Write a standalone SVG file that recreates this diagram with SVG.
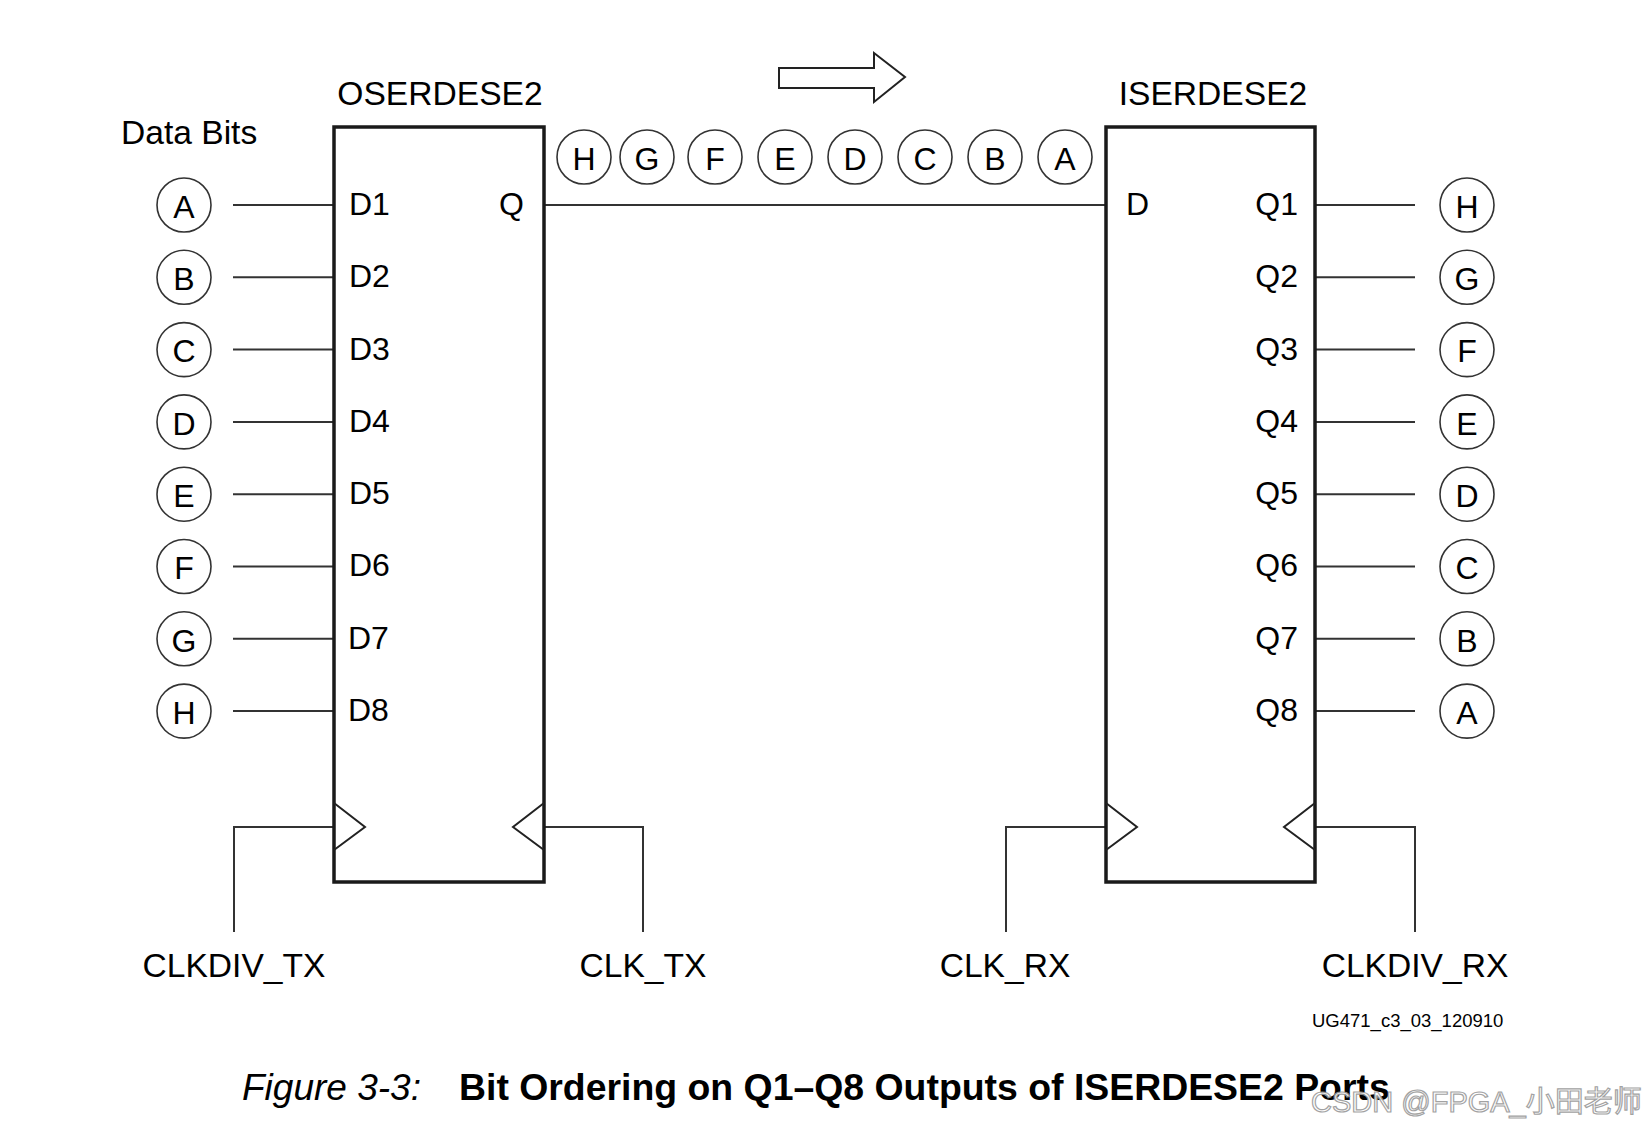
<svg xmlns="http://www.w3.org/2000/svg" width="1647" height="1130" viewBox="0 0 1647 1130">
<style>
text{font-family:"Liberation Sans",Arial,sans-serif;fill:#000}
.lbl{font-size:32px}
.cl{font-size:32px;text-anchor:middle}
.big{font-size:33.6px;text-anchor:middle}
.box{fill:none;stroke:#1a1a1a;stroke-width:3.5}
.ln{fill:none;stroke:#333;stroke-width:2}
.circ{fill:#fff;stroke:#333;stroke-width:1.6}
.tri{fill:none;stroke:#222;stroke-width:2}
</style>
<rect width="1647" height="1130" fill="#fff"/>
<g id="title-data-bits"><text x="121" y="144" font-size="33.6">Data Bits</text></g>
<g id="direction-arrow"><polygon points="779,68 874,68 874,53 905,77 874,102 874,88 779,88" fill="#fff" stroke="#222" stroke-width="2"/></g>
<g id="connectors">
<line class="ln" x1="233" y1="205" x2="334" y2="205"/>
<line class="ln" x1="233" y1="277.3" x2="334" y2="277.3"/>
<line class="ln" x1="233" y1="349.6" x2="334" y2="349.6"/>
<line class="ln" x1="233" y1="421.9" x2="334" y2="421.9"/>
<line class="ln" x1="233" y1="494.2" x2="334" y2="494.2"/>
<line class="ln" x1="233" y1="566.5" x2="334" y2="566.5"/>
<line class="ln" x1="233" y1="638.8" x2="334" y2="638.8"/>
<line class="ln" x1="233" y1="711.1" x2="334" y2="711.1"/>
<line class="ln" x1="544" y1="205" x2="1106" y2="205"/>
<line class="ln" x1="1315" y1="205" x2="1415" y2="205"/>
<line class="ln" x1="1315" y1="277.3" x2="1415" y2="277.3"/>
<line class="ln" x1="1315" y1="349.6" x2="1415" y2="349.6"/>
<line class="ln" x1="1315" y1="421.9" x2="1415" y2="421.9"/>
<line class="ln" x1="1315" y1="494.2" x2="1415" y2="494.2"/>
<line class="ln" x1="1315" y1="566.5" x2="1415" y2="566.5"/>
<line class="ln" x1="1315" y1="638.8" x2="1415" y2="638.8"/>
<line class="ln" x1="1315" y1="711.1" x2="1415" y2="711.1"/>
<polyline class="ln" points="234,932 234,827 334,827"/>
<polyline class="ln" points="544,827 643,827 643,932"/>
<polyline class="ln" points="1006,932 1006,827 1106,827"/>
<polyline class="ln" points="1315,827 1415,827 1415,932"/>
</g>
<g id="oserdese2">
<text class="big" x="440" y="105">OSERDESE2</text>
<rect class="box" x="334" y="127" width="210" height="755"/>
<text class="lbl" x="349" y="215">D1</text>
<text class="lbl" x="349" y="287">D2</text>
<text class="lbl" x="349" y="360">D3</text>
<text class="lbl" x="349" y="432">D4</text>
<text class="lbl" x="349" y="504">D5</text>
<text class="lbl" x="349" y="576">D6</text>
<text class="lbl" x="348" y="649">D7</text>
<text class="lbl" x="348" y="721">D8</text>
<text class="lbl" x="524" y="215" text-anchor="end">Q</text>
<polyline class="tri" points="334,803 365,827 334,850"/>
<polyline class="tri" points="544,803 513,827 544,850"/>
</g>
<g id="iserdese2">
<text class="big" x="1213" y="105">ISERDESE2</text>
<rect class="box" x="1106" y="127" width="209" height="755"/>
<text class="lbl" x="1126" y="215">D</text>
<text class="lbl" x="1298" y="215" text-anchor="end">Q1</text>
<text class="lbl" x="1298" y="287" text-anchor="end">Q2</text>
<text class="lbl" x="1298" y="360" text-anchor="end">Q3</text>
<text class="lbl" x="1298" y="432" text-anchor="end">Q4</text>
<text class="lbl" x="1298" y="504" text-anchor="end">Q5</text>
<text class="lbl" x="1298" y="576" text-anchor="end">Q6</text>
<text class="lbl" x="1298" y="649" text-anchor="end">Q7</text>
<text class="lbl" x="1298" y="721" text-anchor="end">Q8</text>
<polyline class="tri" points="1106,803 1137,827 1106,850"/>
<polyline class="tri" points="1315,803 1284,827 1315,850"/>
</g>
<g id="input-bits">
<circle class="circ" cx="184" cy="205" r="27"/><text class="cl" x="184" y="218">A</text>
<circle class="circ" cx="184" cy="277.3" r="27"/><text class="cl" x="184" y="290">B</text>
<circle class="circ" cx="184" cy="349.6" r="27"/><text class="cl" x="184" y="362">C</text>
<circle class="circ" cx="184" cy="421.9" r="27"/><text class="cl" x="184" y="435">D</text>
<circle class="circ" cx="184" cy="494.2" r="27"/><text class="cl" x="184" y="507">E</text>
<circle class="circ" cx="184" cy="566.5" r="27"/><text class="cl" x="184" y="579">F</text>
<circle class="circ" cx="184" cy="638.8" r="27"/><text class="cl" x="184" y="652">G</text>
<circle class="circ" cx="184" cy="711.1" r="27"/><text class="cl" x="184" y="724">H</text>
</g>
<g id="serial-bits">
<circle class="circ" cx="584" cy="157" r="27"/><text class="cl" x="584" y="170">H</text>
<circle class="circ" cx="647" cy="157" r="27"/><text class="cl" x="647" y="170">G</text>
<circle class="circ" cx="715" cy="157" r="27"/><text class="cl" x="715" y="170">F</text>
<circle class="circ" cx="785" cy="157" r="27"/><text class="cl" x="785" y="170">E</text>
<circle class="circ" cx="855" cy="157" r="27"/><text class="cl" x="855" y="170">D</text>
<circle class="circ" cx="925" cy="157" r="27"/><text class="cl" x="925" y="170">C</text>
<circle class="circ" cx="995" cy="157" r="27"/><text class="cl" x="995" y="170">B</text>
<circle class="circ" cx="1065" cy="157" r="27"/><text class="cl" x="1065" y="170">A</text>
</g>
<g id="output-bits">
<circle class="circ" cx="1467" cy="205" r="27"/><text class="cl" x="1467" y="218">H</text>
<circle class="circ" cx="1467" cy="277.3" r="27"/><text class="cl" x="1467" y="290">G</text>
<circle class="circ" cx="1467" cy="349.6" r="27"/><text class="cl" x="1467" y="362">F</text>
<circle class="circ" cx="1467" cy="421.9" r="27"/><text class="cl" x="1467" y="435">E</text>
<circle class="circ" cx="1467" cy="494.2" r="27"/><text class="cl" x="1467" y="507">D</text>
<circle class="circ" cx="1467" cy="566.5" r="27"/><text class="cl" x="1467" y="579">C</text>
<circle class="circ" cx="1467" cy="638.8" r="27"/><text class="cl" x="1467" y="652">B</text>
<circle class="circ" cx="1467" cy="711.1" r="27"/><text class="cl" x="1467" y="724">A</text>
</g>
<g id="clock-labels">
<text class="big" x="234" y="977">CLKDIV_TX</text>
<text class="big" x="643" y="977">CLK_TX</text>
<text class="big" x="1005" y="977">CLK_RX</text>
<text class="big" x="1415" y="977">CLKDIV_RX</text>
</g>
<g id="figure-id"><text x="1312" y="1027" font-size="18.5">UG471_c3_03_120910</text></g>
<g id="caption">
<text x="242" y="1100" font-size="37" font-style="italic">Figure 3-3:</text>
<text x="459" y="1100" font-size="37.4" font-weight="bold">Bit Ordering on Q1–Q8 Outputs of ISERDESE2 Ports</text>
</g>
<g id="watermark"><text x="1311" y="1112" font-size="29" style="font-family:'Liberation Sans','Noto Sans CJK SC',sans-serif;fill:#fff;stroke:#999;stroke-width:1.2;opacity:0.9">CSDN @FPGA_小田老师</text></g>
</svg>
